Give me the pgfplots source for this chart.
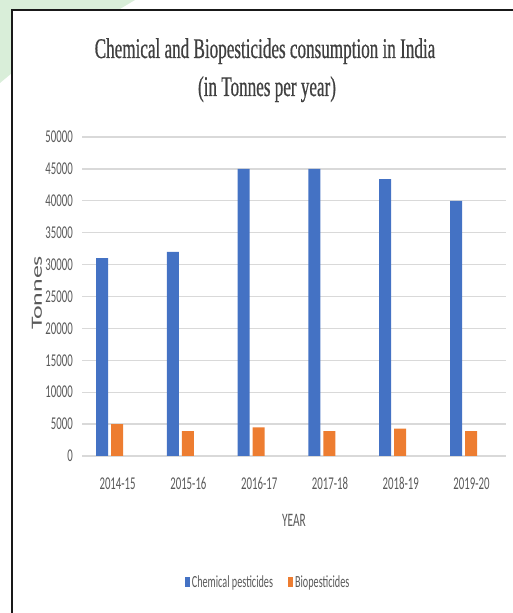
\documentclass[border=0pt]{standalone}
\usepackage{graphicx}
\usepackage{fontspec}
\usepackage{pgfplots}
\pgfplotsset{compat=1.18}
\newfontfamily\cond[FakeStretch=0.6]{Carlito}
\newfontfamily\titlefont[FakeStretch=0.6, FakeBold=0.6]{Liberation Serif}
\newfontfamily\calibri{Carlito}
\definecolor{cblue}{HTML}{4472C4}
\definecolor{corange}{HTML}{ED7D31}
\definecolor{gridc}{HTML}{D9D9D9}
\definecolor{txt}{HTML}{595959}
\definecolor{ttl}{HTML}{404040}
\begin{document}
\begin{tikzpicture}
\path[use as bounding box] (0pt,0pt) rectangle (513pt,613pt);
% faint green decoration top-left
\fill[green!55!black!25!white, opacity=0.6] (0pt,613pt) -- (135pt,613pt) -- (120pt,604pt) -- (12pt,604pt) -- (12pt,540pt) -- (0pt,530pt) -- cycle;
\draw[line width=2pt, black!90] (12pt,0pt) -- (12pt,603pt) -- (513pt,603pt);
\node[anchor=base, text=ttl, font=\titlefont\fontsize{28.5}{28.5}\selectfont, inner sep=0pt] at (265pt,555pt) {Chemical and Biopesticides consumption in India};
\node[anchor=base, text=ttl, font=\titlefont\fontsize{28.5}{28.5}\selectfont, inner sep=0pt] at (267pt,517pt) {(in Tonnes per year)};
\begin{axis}[
  at={(82pt,157pt)}, anchor=south west,
  scale only axis, width=424pt, height=319pt,
  ybar=3pt, bar width=12pt,
  xmin=-0.39, xmax=5.6,
  ymin=0, ymax=50000,
  ytick={0,5000,...,50000},
  xtick={0,1,2,3,4,5},
  xticklabels={2014-15,2015-16,2016-17,2017-18,2018-19,2019-20},
  scaled y ticks=false,
  /pgf/number format/1000 sep={},
  /pgf/number format/assume math mode=true,
  major tick length=0pt,
  axis line style={draw=none},
  ymajorgrids, xmajorgrids=false,
  grid style={draw=gridc, line width=1.3pt},
  tick label style={text=txt, font=\cond\fontsize{18}{18}\selectfont},
  yticklabel style={anchor=east, inner sep=0pt, xshift=-9pt},
  xticklabel style={anchor=base, inner sep=0pt, yshift=-34pt, xshift=8pt},
  xlabel={YEAR},
  xlabel style={at={(axis description cs:0.5,-0.2216)}, anchor=base, inner sep=0pt, text=txt, font=\cond\fontsize{19}{19}\selectfont},
  ylabel={\resizebox{74pt}{10pt}{\calibri Tonnes}},
  ylabel style={at={(axis description cs:-0.106,0.511)}, anchor=center, inner sep=0pt, text=txt},
  legend columns=2,
  legend style={at={(0.439,-0.395)}, anchor=center, draw=none, fill=none, inner sep=0pt,
    font=\cond\fontsize{17}{17}\selectfont, text=txt,
    /tikz/every even column/.append style={column sep=13pt}},
  clip=false,
]
\addplot[fill=cblue, draw=none, legend image code/.code={\fill[cblue] (0pt,-5pt) rectangle (5pt,5pt);}]
  coordinates {(0,31000) (1,32000) (2,45000) (3,45000) (4,43400) (5,40000)};
\addplot[fill=corange, draw=none, legend image code/.code={\fill[corange] (0pt,-5pt) rectangle (5pt,5pt);}]
  coordinates {(0,5000) (1,3900) (2,4500) (3,3900) (4,4300) (5,3900)};
\legend{Chemical pesticides, Biopesticides}
\end{axis}
\end{tikzpicture}
\end{document}
